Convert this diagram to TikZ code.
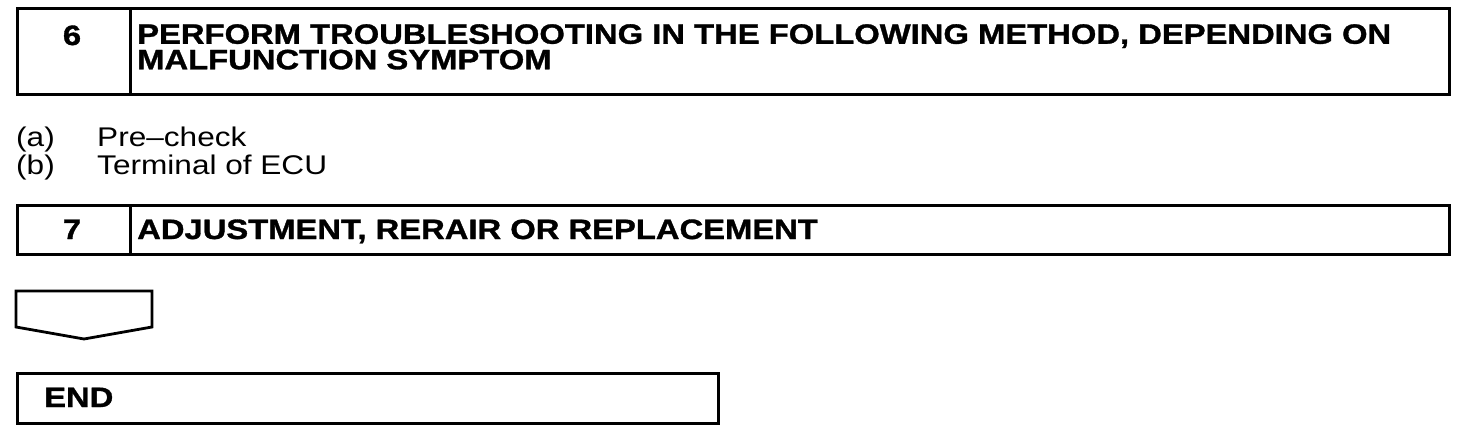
\documentclass[tikz,border=0pt]{standalone}
\usepackage{fontspec}
\setmainfont{Liberation Sans}[FakeStretch=1.17, BoldFeatures={FakeBold=1.2}]
\begin{document}
\begin{tikzpicture}[x=1pt,y=-1pt,
  cell/.style={draw, line width=2.8pt, inner sep=0pt, anchor=north west},
  head/.style={font=\bfseries\fontsize{28}{25.5}\selectfont, inner sep=0pt, anchor=base west},
  num/.style={font=\bfseries\fontsize{28}{28}\selectfont, inner sep=0pt, anchor=base},
  plain/.style={font=\fontsize{27}{27}\selectfont, inner sep=0pt, anchor=base west}]
\useasboundingbox (0,0) rectangle (1472,428);
% step 6
\node[cell, minimum width=113, minimum height=86] (n6) at (16,7) {};
\node[cell, minimum width=1319, minimum height=86] (h6) at (129,7) {};
\node[num] (k6) at (72,45) {6};
\node[head, anchor=north west, align=left] (t6) at (137,24) {PERFORM TROUBLESHOOTING IN THE FOLLOWING METHOD, DEPENDING ON\\MALFUNCTION SYMPTOM};
% sub items
\node[plain] (la) at (16,146) {(a)};
\node[plain] (ia) at (97,146) {Pre--check};
\node[plain] (lb) at (16,174) {(b)};
\node[plain] (ib) at (97,174) {Terminal of ECU};
% step 7
\node[cell, minimum width=113, minimum height=49] (n7) at (16,204) {};
\node[cell, minimum width=1319, minimum height=49] (h7) at (129,204) {};
\node[num] (k7) at (72,239) {7};
\node[head] (t7) at (137,239) {ADJUSTMENT, RERAIR OR REPLACEMENT};
% arrow pentagon
\draw[line width=2.8pt, line join=miter] (16,291) -- (152,291) -- (152,327) -- (84,339) -- (16,327) -- cycle;
% END
\node[cell, minimum width=701, minimum height=50] (endbox) at (16,372) {};
\node[head] (tend) at (44,407) {END};
\end{tikzpicture}
\end{document}
